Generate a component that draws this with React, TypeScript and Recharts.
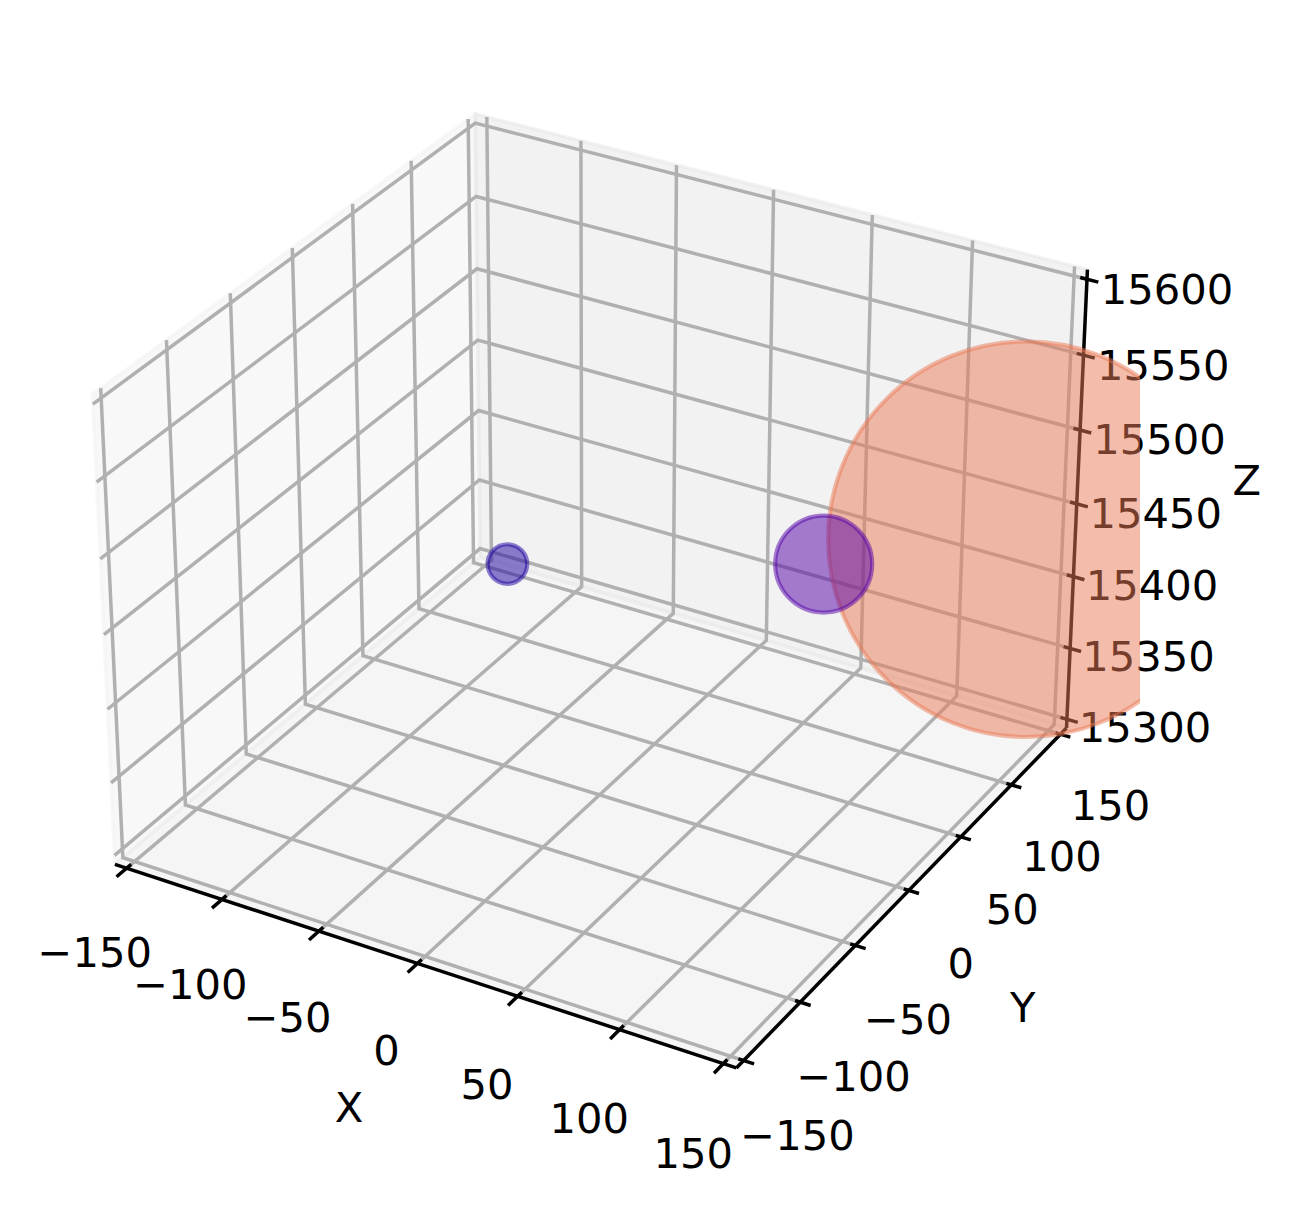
import { Scatter, ScatterChart, XAxis, YAxis } from 'recharts';

const WIDTH = 1290;
const HEIGHT = 1205;

const xTicks = [-150, -100, -50, 0, 50, 100, 150];
const yTicks = [-150, -100, -50, 0, 50, 100, 150];
const zTicks = [15300, 15350, 15400, 15450, 15500, 15550, 15600];

// x, y, z and marker area of the three bodies
const smallBody = [{ x: -70.3, y: 38.5, z: 15400, s: 1232 }];
const midBody = [{ x: 53.5, y: 110, z: 15400, s: 7390 }];
const bigBody = [{ x: 139.5, y: 140.2, z: 15430, s: 122900 }];

const FONT = 'DejaVu Sans';
const FONT_SIZE = 41.67;
const LINE = 3.5;
const GRID = '#b0b0b0';

// matplotlib pads the panes by 1/48 of the axis range
const PAD = 6.25;
const X0 = -150 - PAD;
const X1 = 150 + PAD;
const Y0 = -150 - PAD;
const Y1 = 150 + PAD;
const Z0 = 15300 - PAD;
const Z1 = 15600 + PAD;

// same camera as mplot3d: elev 30, azim -60, dist 10, box aspect 4:4:3
const BOX = [1.14286, 1.14286, 0.85714];
const U = [0.86603, 0.5, 0];
const V = [-0.25, 0.43301, 0.86603];
const W = [0.43301, -0.75, 0.5];
const dot = (a: number[], b: number[]) => a[0] * b[0] + a[1] * b[1] + a[2] * b[2];

function project(x: number, y: number, z: number) {
  const d = [
    ((x + 150) / 300 - 0.5) * BOX[0],
    ((y + 150) / 300 - 0.5) * BOX[1],
    ((z - 15300) / 300 - 0.5) * BOX[2],
  ];
  const depth = 10 - dot(W, d);
  return { px: 599.5 + (5980 * dot(U, d)) / depth, py: 568 - (6000 * dot(V, d)) / depth };
}

const path3d = (pts: number[][]) => pts.map(([x, y, z]) => project(x, y, z));

const panes = [
  { fill: '#f2f2f2', pts: [[X0, Y0, Z0], [X0, Y1, Z0], [X0, Y1, Z1], [X0, Y0, Z1]] },
  { fill: '#e6e6e6', pts: [[X0, Y1, Z0], [X1, Y1, Z0], [X1, Y1, Z1], [X0, Y1, Z1]] },
  { fill: '#ececec', pts: [[X0, Y0, Z0], [X1, Y0, Z0], [X1, Y1, Z0], [X0, Y1, Z0]] },
];

const gridPaths = [
  ...xTicks.map((t) => [[t, Y0, Z0], [t, Y1, Z0], [t, Y1, Z1]]),
  ...yTicks.map((t) => [[X1, t, Z0], [X0, t, Z0], [X0, t, Z1]]),
  ...zTicks.map((t) => [[X0, Y0, t], [X0, Y1, t], [X1, Y1, t]]),
];

const axisPaths = [
  [[X0, Y0, Z0], [X1, Y0, Z0]],
  [[X1, Y0, Z0], [X1, Y1, Z0]],
  [[X1, Y1, Z0], [X1, Y1, Z1]],
];

const tickPaths = [
  ...xTicks.map((t) => [[t, Y0 - 8, Z0], [t, Y0 + 3.5, Z0]]),
  ...yTicks.map((t) => [[X1 - 2.5, t, Z0], [X1 + 5, t, Z0]]),
  ...zTicks.map((t) => [[X1 - 3.3, Y1, t], [X1 + 5.5, Y1, t]]),
];

const fmt = (v: number) => String(v).replace('-', '\u2212');

const xLabels = xTicks.map((t) => ({
  ...project(t, Y0, Z0),
  text: fmt(t),
  dx: -31 + t / 150,
  dy: 86.5 + t / 60,
}));
const yLabels = yTicks.map((t) => ({ ...project(X1, t, Z0), text: fmt(t), dx: 52 - t / 75, dy: 72.5 - t / 75 }));
const zLabels = zTicks.map((t) => ({
  ...project(X1, Y1, t),
  text: String(t),
  dx: 79 + (t - 15450) / 150,
  dy: 8.5 + (t - 15450) / 150,
}));
const axisNames = [
  { ...project(0, Y0, Z0), text: 'X', dx: -68.5, dy: 143.5 },
  { ...project(X1, 0, Z0), text: 'Y', dx: 114, dy: 116 },
  { ...project(X1, Y1, 15450), text: 'Z', dx: 170, dy: -24 },
];

const NoDot = () => <g />;

function TextMark(props: any) {
  const { cx, cy, payload } = props;
  return (
    <text
      x={cx + payload.dx}
      y={cy + payload.dy + FONT_SIZE * 0.3645}
      textAnchor="middle"
      fontFamily={FONT}
      fontSize={FONT_SIZE}
      fill="#000"
    >
      {payload.text}
    </text>
  );
}

// markers are cut off at the right edge of the axes box
function body(color: string, id: string) {
  return function BodyMark(props: any) {
    const r = Math.sqrt(props.payload.s / Math.PI);
    return (
      <g>
        <clipPath id={id}>
          <rect x={0} y={0} width={1140} height={HEIGHT} />
        </clipPath>
        <circle
          cx={props.cx}
          cy={props.cy}
          r={r}
          fill={color}
          fillOpacity={0.5}
          stroke={color}
          strokeOpacity={0.5}
          strokeWidth={4.2}
          clipPath={`url(#${id})`}
        />
      </g>
    );
  };
}

export default function App() {
  return (
    <div style={{ position: 'absolute', left: 0, top: 0, width: WIDTH, height: HEIGHT, background: '#fff' }}>
      <ScatterChart width={WIDTH} height={HEIGHT} margin={{ top: 0, right: 0, bottom: 0, left: 0 }}>
        <XAxis hide type="number" dataKey="px" domain={[0, WIDTH]} />
        <YAxis hide type="number" dataKey="py" domain={[0, HEIGHT]} reversed />
        {panes.map((p, i) => (
          <Scatter
            key={`pane${i}`}
            data={path3d([...p.pts, p.pts[0]])}
            shape={NoDot}
            line={{ fill: p.fill, fillOpacity: 0.5, stroke: p.fill, strokeOpacity: 0.5, strokeWidth: LINE }}
            isAnimationActive={false}
          />
        ))}
        {gridPaths.map((pts, i) => (
          <Scatter
            key={`grid${i}`}
            data={path3d(pts)}
            shape={NoDot}
            line={{ stroke: GRID, strokeWidth: LINE }}
            isAnimationActive={false}
          />
        ))}
        {[...axisPaths, ...tickPaths].map((pts, i) => (
          <Scatter
            key={`axis${i}`}
            data={path3d(pts)}
            shape={NoDot}
            line={{ stroke: '#000', strokeWidth: LINE }}
            isAnimationActive={false}
          />
        ))}
        <Scatter data={[...xLabels, ...yLabels, ...zLabels, ...axisNames]} shape={TextMark} isAnimationActive={false} />
        <Scatter
          data={bigBody.map((b) => ({ ...b, ...project(b.x, b.y, b.z) }))}
          shape={body('#e97a55', 'clipBig')}
          isAnimationActive={false}
        />
        <Scatter
          data={midBody.map((b) => ({ ...b, ...project(b.x, b.y, b.z) }))}
          shape={body('#5400a8', 'clipMid')}
          isAnimationActive={false}
        />
        <Scatter
          data={smallBody.map((b) => ({ ...b, ...project(b.x, b.y, b.z) }))}
          shape={body('#1e00a0', 'clipSmall')}
          isAnimationActive={false}
        />
      </ScatterChart>
    </div>
  );
}
